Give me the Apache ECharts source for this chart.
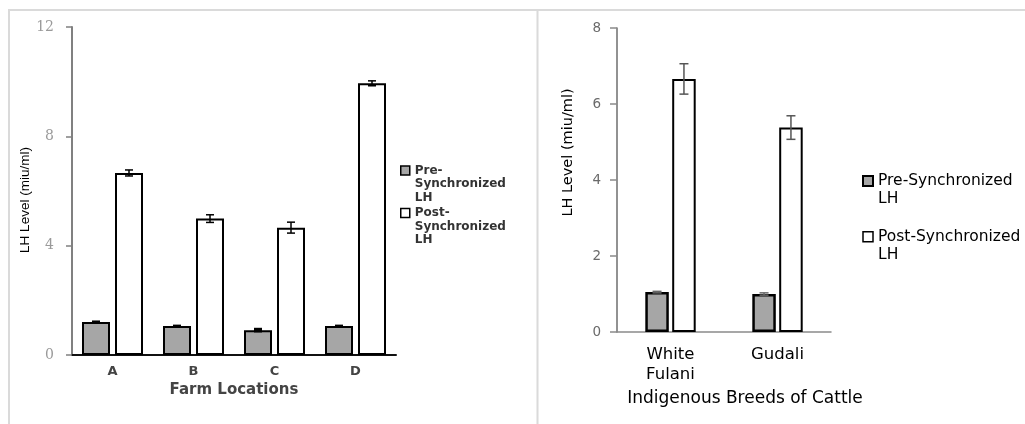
<!DOCTYPE html>
<html>
<head>
<meta charset="utf-8">
<script src="https://cdn.jsdelivr.net/npm/echarts@6/dist/echarts.min.js"></script>
<style>
html,body{margin:0;padding:0;background:#fff;}
#chart{width:1025px;height:424px;}
</style>
</head>
<body>
<div id="chart"></div>
<script>
// ---- data ----
const farmCategories = ['A', 'B', 'C', 'D'];
const farmPre = [1.21, 1.06, 0.91, 1.06];
const farmPreErr = [0, 0, 0.04, 0];
const farmPost = [6.66, 4.99, 4.66, 9.94];
const farmPostErr = [0.11, 0.14, 0.2, 0.09];
const farmTicks = [0, 4, 8, 12];

const breedCategories = ['White Fulani', 'Gudali'];
const breedPre = [1.05, 1.0];
const breedPreErr = [0.02, 0.03];
const breedPost = [6.66, 5.38];
const breedPostErr = [0.4, 0.31];
const breedTicks = [0, 2, 4, 6, 8];

const seriesNames = ['Pre-Synchronized LH', 'Post-Synchronized LH'];

// ---- styles ----
const GRAY = '#a6a6a6';
const L_BW = 28, L_GAP = 5;
const R_BW = 23.5, R_GAP = 3.4;

function errSeries(name, xi, yi, vals, errs, offset, cap, color, lw) {
  return {
    type: 'custom', name: name + ' err', xAxisIndex: xi, yAxisIndex: yi, z: 5,
    silent: true, legendHoverLink: false,
    data: vals.map((v, i) => [i, v - errs[i], v + errs[i]]),
    renderItem: function (params, api) {
      const x = api.coord([api.value(0), 0])[0] + offset;
      const lo = api.coord([api.value(0), api.value(1)])[1];
      const hi = api.coord([api.value(0), api.value(2)])[1];
      const st = { stroke: color, lineWidth: lw };
      return { type: 'group', children: [
        { type: 'line', shape: { x1: x, y1: lo, x2: x, y2: hi }, style: st },
        { type: 'line', shape: { x1: x - cap / 2, y1: hi, x2: x + cap / 2, y2: hi }, style: st },
        { type: 'line', shape: { x1: x - cap / 2, y1: lo, x2: x + cap / 2, y2: lo }, style: st }
      ]};
    }
  };
}

// square icon sitting on the first text line of a multi-line legend entry
function iconPath(sq, lh, lines) {
  const h = lh * lines, a = (lh - sq) / 2;
  return 'path://M0,0M0,' + a + 'H' + sq + 'V' + (a + sq) + 'H0Z' + 'M' + sq + ',' + h;
}

function mkLegend(names, labels, left, top, gap, lh, lines, sq, font, fills, borderW) {
  return {
    left: left, top: top, orient: 'vertical', padding: 0,
    itemWidth: sq, itemHeight: lh * lines, itemGap: gap, selectedMode: false,
    data: names.map((n, i) => ({
      name: n, icon: iconPath(sq, lh, lines),
      itemStyle: { color: fills[i], borderColor: '#000', borderWidth: borderW[i] }
    })),
    formatter: function (n) { return labels[names.indexOf(n)]; },
    textStyle: Object.assign({ lineHeight: lh }, font)
  };
}

const leftFont = { fontFamily: 'DejaVu Sans', fontSize: 12, fontWeight: 'bold', color: '#333' };
const rightFont = { fontFamily: 'DejaVu Sans', fontSize: 15.5, color: '#000' };

const chart = echarts.init(document.getElementById('chart'), null, { renderer: 'canvas' });
chart.setOption({
  animation: false,
  backgroundColor: '#fff',
  graphic: [
    { type: 'line', shape: { x1: 8, y1: 10, x2: 1025, y2: 10 }, style: { stroke: '#dadada', lineWidth: 2 } },
    { type: 'line', shape: { x1: 9, y1: 9, x2: 9, y2: 424 }, style: { stroke: '#dadada', lineWidth: 2 } },
    { type: 'line', shape: { x1: 537.5, y1: 9, x2: 537.5, y2: 424 }, style: { stroke: '#dadada', lineWidth: 2 } }
  ],
  legend: [
    mkLegend([seriesNames[0], seriesNames[1]], ['Pre-\nSynchronized\nLH', 'Post-\nSynchronized\nLH'],
      400, 163, 0.5, 13.5, 3, 9, leftFont, [GRAY, '#fff'], [1.5, 1.5]),
    mkLegend([seriesNames[0] + ' ', seriesNames[1] + ' '], ['Pre-Synchronized\nLH', 'Post-Synchronized\nLH'],
      862, 171, 18, 18, 2, 10, rightFont, [GRAY, '#fff'], [2, 1.5])
  ],
  grid: [
    { left: 72, top: 27, width: 324, height: 328 },
    { left: 617, top: 28, width: 214, height: 304 }
  ],
  xAxis: [
    {
      type: 'category', gridIndex: 0, data: farmCategories,
      axisLine: { lineStyle: { color: '#111', width: 2 } },
      axisTick: { show: false },
      axisLabel: { margin: 10, fontFamily: 'DejaVu Sans', fontSize: 13, fontWeight: 'bold', color: '#444' },
      name: 'Farm Locations', nameLocation: 'middle', nameGap: 28,
      nameTextStyle: { fontFamily: 'DejaVu Sans', fontSize: 15, fontWeight: 'bold', color: '#444' }
    },
    {
      type: 'category', gridIndex: 1, data: breedCategories,
      axisLine: { lineStyle: { color: '#8a8a8a', width: 1.5 } },
      axisTick: { show: false },
      axisLabel: { margin: 13, lineHeight: 20, fontFamily: 'DejaVu Sans', fontSize: 16.5, color: '#000',
        formatter: v => v.replace(' ', '\n') },
      name: 'Indigenous Breeds of Cattle', nameLocation: 'middle', nameGap: 58,
      nameTextStyle: { fontFamily: 'DejaVu Sans', fontSize: 17, color: '#000', padding: [0, 0, 0, 42] }
    }
  ],
  yAxis: [
    {
      type: 'value', gridIndex: 0, min: farmTicks[0], max: farmTicks[farmTicks.length - 1], interval: 4,
      splitLine: { show: false },
      axisLine: { show: true, lineStyle: { color: '#808080', width: 2 } },
      axisTick: { show: true, length: 6, lineStyle: { color: '#808080', width: 1.5 } },
      axisLabel: { margin: 18, fontFamily: 'DejaVu Serif', fontSize: 14, color: '#9a9a9a' },
      name: 'LH Level (miu/ml)', nameLocation: 'middle', nameGap: 37,
      nameTextStyle: { fontFamily: 'Liberation Sans', fontSize: 13.5, color: '#000', padding: [0, 18, 0, 0] }
    },
    {
      type: 'value', gridIndex: 1, min: breedTicks[0], max: breedTicks[breedTicks.length - 1], interval: 2,
      splitLine: { show: false },
      axisLine: { show: true, lineStyle: { color: '#6e6e6e', width: 1.5 } },
      axisTick: { show: true, length: 7, lineStyle: { color: '#8a8a8a', width: 1.5 } },
      axisLabel: { margin: 16, fontFamily: 'DejaVu Sans', fontSize: 13.5, color: '#6a6a6a' },
      name: 'LH Level (miu/ml)', nameLocation: 'middle', nameGap: 41,
      nameTextStyle: { fontFamily: 'DejaVu Sans', fontSize: 14.5, color: '#000', padding: [0, 0, 0, 55] }
    }
  ],
  series: [
    { type: 'bar', name: seriesNames[0], xAxisIndex: 0, yAxisIndex: 0, data: farmPre,
      barWidth: L_BW, barGap: (L_GAP / L_BW * 100) + '%',
      itemStyle: { color: GRAY, borderColor: '#000', borderWidth: 2 } },
    { type: 'bar', name: seriesNames[1], xAxisIndex: 0, yAxisIndex: 0, data: farmPost,
      barWidth: L_BW, barGap: (L_GAP / L_BW * 100) + '%',
      itemStyle: { color: '#fff', borderColor: '#000', borderWidth: 2 } },
    errSeries(seriesNames[0], 0, 0, farmPre, farmPreErr, -(L_BW + L_GAP) / 2, 8, '#000', 2.5),
    errSeries(seriesNames[1], 0, 0, farmPost, farmPostErr, (L_BW + L_GAP) / 2, 8, '#000', 1.5),
    { type: 'bar', name: seriesNames[0] + ' ', xAxisIndex: 1, yAxisIndex: 1, data: breedPre,
      barWidth: R_BW, barGap: (R_GAP / R_BW * 100) + '%',
      itemStyle: { color: GRAY, borderColor: '#000', borderWidth: 2.5 } },
    { type: 'bar', name: seriesNames[1] + ' ', xAxisIndex: 1, yAxisIndex: 1, data: breedPost,
      barWidth: R_BW, barGap: (R_GAP / R_BW * 100) + '%',
      itemStyle: { color: '#fff', borderColor: '#000', borderWidth: 2 } },
    errSeries(seriesNames[0] + ' ', 1, 1, breedPre, breedPreErr, -(R_BW + R_GAP) / 2, 9, '#666', 1.5),
    errSeries(seriesNames[1] + ' ', 1, 1, breedPost, breedPostErr, (R_BW + R_GAP) / 2, 9, '#555', 1.5)
  ]
});
</script>
</body>
</html>
